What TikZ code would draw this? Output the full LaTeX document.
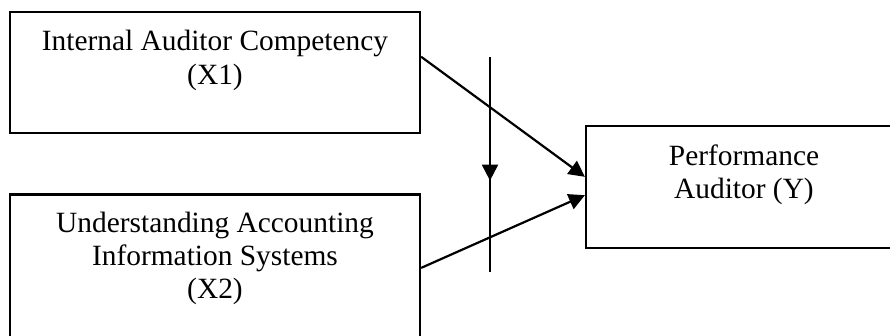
\documentclass[tikz,border=0pt]{standalone}
\usepackage{fontspec}
\setmainfont{Liberation Serif}
\usetikzlibrary{positioning,calc,arrows.meta,decorations.markings}

\begin{document}
\begin{tikzpicture}[
  x=0.5pt,y=-0.5pt,
  box/.style={draw,line width=1.1pt,inner sep=0pt},
  lbl/.style={align=center,inner sep=0pt,font=\fontsize{14.7pt}{16.7pt}\selectfont},
  link/.style={line width=1.1pt,-{Triangle[length=8pt,width=8pt]}},
  every path/.style={line width=1.1pt}
]
  \useasboundingbox (0,0) rectangle (890,336);

  % Variables
  \node[box,minimum width=205pt,minimum height=60.5pt] (x1) at (215,72.5) {};
  \node[box,minimum width=205pt,minimum height=75.25pt] (x2) at (215,269.75) {};
  \node[box,minimum width=158pt,minimum height=61pt] (y) at (744,187) {};

  % Texts, hung from the top of each box
  \node[lbl,below=9.3pt of x1.north] (x1text) {Internal Auditor Competency\\(X1)};
  \node[lbl,below=8.6pt of x2.north] (x2text) {Understanding Accounting\\Information Systems\\(X2)};
  \node[lbl,below=9.3pt of y.north] (ytext) {Performance\\Auditor (Y)};

  % Moderating line
  \coordinate (mtop) at (490,57);
  \coordinate (mbot) at (490,272);
  \draw[postaction={decorate},decoration={markings,
      mark=at position 0.575 with {\arrow{Triangle[length=8pt,width=8pt]}}}]
    (mtop) -- (mbot);

  % Effects on Y
  \draw[link] ($(x1.north east)!0.372!(x1.south east)$) -- ($(y.north west)!0.418!(y.south west)$);
  \draw[link] ($(x2.north east)!0.488!(x2.south east)$) -- ($(y.north west)!0.566!(y.south west)$);
\end{tikzpicture}
\end{document}
